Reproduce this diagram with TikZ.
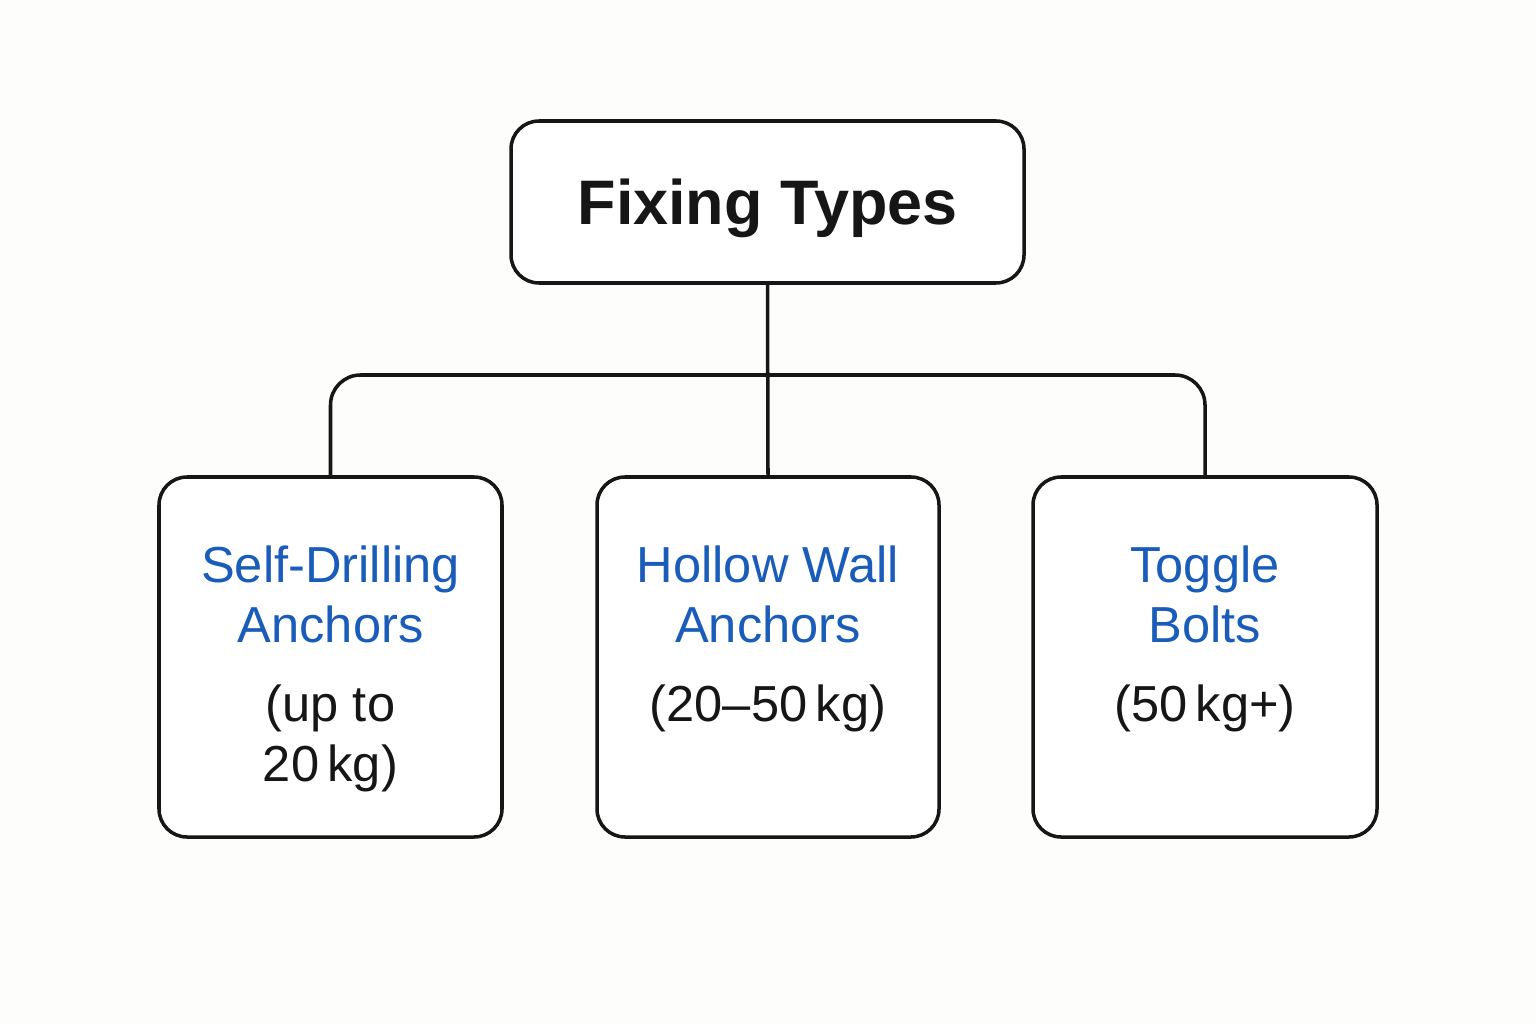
\documentclass[tikz,border=0pt]{standalone}
\usepackage{fontspec}
\setmainfont{Liberation Sans}
\usepackage{xcolor}
\usetikzlibrary{positioning,calc}

\definecolor{typeblue}{HTML}{1A5CBA}
\definecolor{inkblack}{HTML}{161616}
\definecolor{paper}{HTML}{FDFDFB}

\tikzset{
	box/.style={draw=inkblack, line width=1pt, rounded corners=0.28cm, fill=white},
	typename/.style={text=typeblue, align=center, inner sep=0pt, font=\fontsize{14.4}{17.1}\selectfont},
	typeload/.style={text=inkblack, align=center, inner sep=0pt, font=\fontsize{14.4}{17.1}\selectfont},
	link/.style={draw=inkblack, line width=1pt}
}

\begin{document}
\begin{tikzpicture}
			\fill[paper] (0,0) rectangle (15.36,10.24);
			\useasboundingbox (0,0) rectangle (15.36,10.24);
			
			% root
			\node[box, minimum width=5.13cm, minimum height=1.62cm, text height=0.45cm, text depth=0cm,
				font=\bfseries\fontsize{17.9}{22}\selectfont, text=inkblack] (root) at (7.675,8.22) {Fixing Types};
			
			% three kinds of fixing
			\node[box, minimum width=3.43cm, minimum height=3.6cm] (sda) at (3.305,3.67) {};
			\node[box, minimum width=3.42cm, minimum height=3.6cm] (hwa) at (7.68,3.67) {};
			\node[box, minimum width=3.44cm, minimum height=3.6cm] (tgb) at (12.05,3.67) {};
			
			\node[typename, anchor=north, below=0.7cm of sda.north] (sdaname) {Self-Drilling\\Anchors};
			\node[typeload, anchor=north, below=0.4cm of sdaname] (sdaload) {(up to\\20\,kg)};
			\node[typename, anchor=north, below=0.7cm of hwa.north] (hwaname) {Hollow Wall\\Anchors};
			\node[typeload, anchor=north, below=0.4cm of hwaname] (hwaload) {(20–50\,kg)};
			\node[typename, anchor=north, below=0.7cm of tgb.north] (tgbname) {Toggle\\Bolts};
			\node[typeload, anchor=north, below=0.4cm of tgbname] (tgbload) {(50\,kg+)};
			
			% connectors
			\coordinate (bar) at (7.68,6.49);
			\draw[link] (root.south) -- (hwa.north);
			\draw[link, rounded corners=0.3cm] (sda.north) |- (bar) -| (tgb.north);
		\end{tikzpicture}
\end{document}
